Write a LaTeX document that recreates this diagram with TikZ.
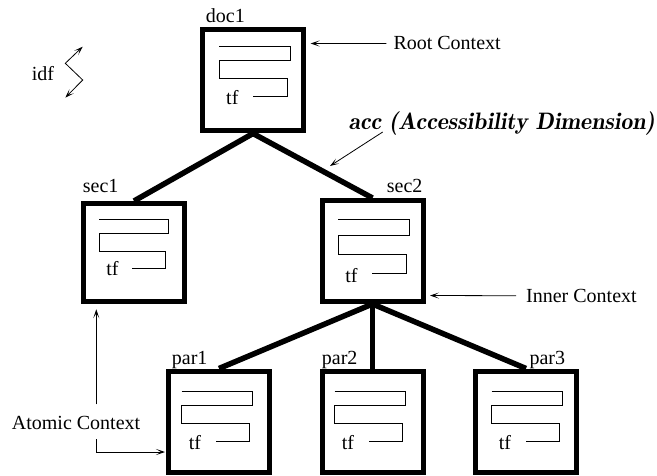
\documentclass[tikz,border=0pt]{standalone}
\usepackage{fontspec}
\setmainfont{Liberation Serif}
\usetikzlibrary{arrows.meta}
\newcommand{\lblfont}{\fontsize{20}{24}\selectfont}
\newcommand{\tfmeander}[5]{%
  \begin{scope}[shift={(#2,#3)},xscale=#4,yscale=#5]
    \draw[meander] (0,0) -- (71,0) -- (71,14.7) -- (0,14.7) -- (0,32.7) -- (68,32.7) -- (68,50.7) -- (34,50.7);
    \node[lbl] (#1tf) at (7,58.5) {tf};
  \end{scope}}
\tikzset{
  ctxbox/.style={draw,line width=5pt,inner sep=0pt,minimum width=101pt,minimum height=101pt},
  lbl/.style={anchor=base west,inner sep=0pt,font=\lblfont},
  meander/.style={line width=1pt},
  edge/.style={line width=5.5pt},
  ptr/.style={line width=.8pt,-{Stealth[length=9pt,width=6pt,inset=5pt]}}
}
\begin{document}
\begin{tikzpicture}[x=1pt,y=-1pt]
  \useasboundingbox (0,0) rectangle (657,476);

  % context boxes
  \node[ctxbox] (doc1) at (253,80.5) {};
  \node[ctxbox,minimum height=98pt] (sec1) at (134,252.5) {};
  \node[ctxbox] (sec2) at (372.5,251) {};
  \node[ctxbox] (par1) at (219,421.5) {};
  \node[ctxbox] (par2) at (372.5,421.5) {};
  \node[ctxbox] (par3) at (526,421.5) {};

  \node[lbl] (doc1lbl) at (205.7,22.7) {doc1};
  \node[lbl] (sec1lbl) at (82.7,192.7) {sec1};
  \node[lbl] (sec2lbl) at (386.7,192.7) {sec2};
  \node[lbl] (par1lbl) at (171.7,364) {par1};
  \node[lbl] (par2lbl) at (321.7,364) {par2};
  \node[lbl] (par3lbl) at (529.3,364) {par3};

  \tfmeander{doc1}{219}{46.3}{1}{1}
  \tfmeander{sec1}{99.3}{220}{.97}{.95}
  \tfmeander{sec2}{338}{220}{1.01}{1.06}
  \tfmeander{par1}{181.7}{391}{1}{1}
  \tfmeander{par2}{334.7}{391}{1}{1}
  \tfmeander{par3}{491.7}{391}{1}{1}

  % tree
  \draw[edge] (doc1.south) -- (sec1.north);
  \draw[edge] (doc1.south) -- (sec2.north);
  \draw[edge] (sec2.south) -- (par1.north);
  \draw[edge] (sec2.south) -- (par2.north);
  \draw[edge] (sec2.south) -- (par3.north);

  % annotations
  \node[lbl] (rootlbl) at (393.3,50) {Root Context};
  \coordinate (rootend) at (310.7,43.5);
  \draw[ptr,shorten <=7pt] (rootlbl.west) -- (rootend);

  \node[lbl] (innerlbl) at (526,302.3) {Inner Context};
  \coordinate (innerend) at (430,295.5);
  \draw[ptr,shorten <=10pt] (innerlbl.west) -- (innerend);

  \node[lbl,font=\fontsize{23.8}{28}\fontfamily{lmr}\bfseries\itshape\selectfont] (acclbl) at (348.3,129.3) {acc (Accessibility Dimension)};
  \coordinate (accbeg) at (382.7,132);
  \coordinate (accend) at (330,166);
  \draw[ptr] (accbeg) -- (accend);

  \node[lbl] (idflbl) at (31.7,80.7) {idf};
  \coordinate (idfa) at (82.7,46.7);
  \coordinate (idfb) at (65.3,63.3);
  \coordinate (idfc) at (82.7,80);
  \coordinate (idfd) at (65.3,97.7);
  \draw[line width=.8pt,{Stealth[length=9pt,width=6pt,inset=5pt]}-{Stealth[length=9pt,width=6pt,inset=5pt]}] (idfa) -- (idfb) -- (idfc) -- (idfd);

  \node[lbl] (atomlbl) at (11.7,429) {Atomic Context};
  \coordinate (atomup) at (96.3,404.3);
  \coordinate (atomdn) at (96.3,439);
  \draw[ptr] (atomup) -- (96.3,309.3);
  \draw[ptr] (atomdn) |- (165,452);
\end{tikzpicture}
\end{document}
